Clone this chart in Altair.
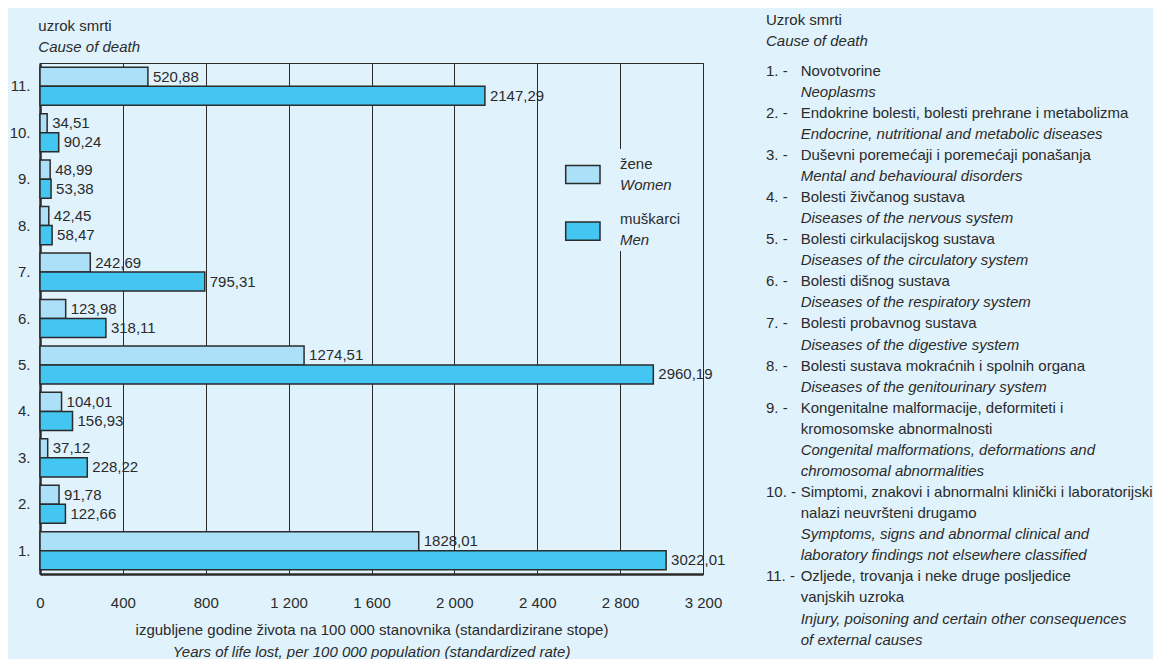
import altair as alt
import pandas as pd

FONT = "Liberation Sans, Arial, sans-serif"
FS = 15
BG = "#e0f2fc"
WOMEN_C = "#abe0f8"
MEN_C = "#43c6f1"
INK = "#2b2b2b"

causes = ["1.", "2.", "3.", "4.", "5.", "6.", "7.", "8.", "9.", "10.", "11."]
women = [1828.01, 91.78, 37.12, 104.01, 1274.51, 123.98, 242.69, 42.45, 48.99, 34.51, 520.88]
men = [3022.01, 122.66, 228.22, 156.93, 2960.19, 318.11, 795.31, 58.47, 53.38, 90.24, 2147.29]
x_ticks = [0, 400, 800, 1200, 1600, 2000, 2400, 2800, 3200]

legend_hr = ["žene", "muškarci"]
legend_en = ["Women", "Men"]

item_numbers = ["1. -", "2. -", "3. -", "4. -", "5. -", "6. -", "7. -", "8. -", "9. -", "10. -", "11. -"]
item_hr = [
    ["Novotvorine"],
    ["Endokrine bolesti, bolesti prehrane i metabolizma"],
    ["Duševni poremećaji i poremećaji ponašanja"],
    ["Bolesti živčanog sustava"],
    ["Bolesti cirkulacijskog sustava"],
    ["Bolesti dišnog sustava"],
    ["Bolesti probavnog sustava"],
    ["Bolesti sustava mokraćnih i spolnih organa"],
    ["Kongenitalne malformacije, deformiteti i", "kromosomske abnormalnosti"],
    ["Simptomi, znakovi i abnormalni klinički i laboratorijski", "nalazi neuvršteni drugamo"],
    ["Ozljede, trovanja i neke druge posljedice", "vanjskih uzroka"],
]
item_en = [
    ["Neoplasms"],
    ["Endocrine, nutritional and metabolic diseases"],
    ["Mental and behavioural disorders"],
    ["Diseases of the nervous system"],
    ["Diseases of the circulatory system"],
    ["Diseases of the respiratory system"],
    ["Diseases of the digestive system"],
    ["Diseases of the genitourinary system"],
    ["Congenital malformations, deformations and", "chromosomal abnormalities"],
    ["Symptoms, signs and abnormal clinical and", "laboratory findings not elsewhere classified"],
    ["Injury, poisoning and certain other consequences", "of external causes"],
]

W, H = 663, 511

# ---- bar data
rows = []
for c, w, m in zip(causes, women, men):
    rows.append({"cause": c, "sex": "žene", "value": w})
    rows.append({"cause": c, "sex": "muškarci", "value": m})
df = pd.DataFrame(rows)
df["label"] = df["value"].map(lambda v: f"{v:.2f}".replace(".", ","))

y_enc = alt.Y("cause:N", sort=causes[::-1],
              scale=alt.Scale(paddingInner=0.18, paddingOuter=0.09),
              axis=alt.Axis(title=None, ticks=False, labelPadding=10, labelFontSize=FS,
                            labelFont=FONT, labelColor=INK, domainColor=INK, domainWidth=2.5,
                            grid=False))
yoff = alt.YOffset("sex:N", sort=["žene", "muškarci"], scale=alt.Scale(paddingInner=0, paddingOuter=0))
x_enc = alt.X("value:Q", scale=alt.Scale(domain=[0, 3200], nice=False),
              axis=alt.Axis(values=x_ticks, ticks=False, labelPadding=21, labelFontSize=FS,
                            labelFont=FONT, labelColor=INK, labelFlush=False, labelOverlap=False,
                            labelExpr="replace(format(datum.value, ','), ',', ' ')",
                            domainColor=INK, domainWidth=2.5,
                            grid=True, gridColor=INK, gridWidth=1, gridOpacity=1,
                            title="izgubljene godine života na 100 000 stanovnika (standardizirane stope)",
                            titleFont=FONT, titleFontSize=FS, titleFontWeight="normal",
                            titleColor=INK, titlePadding=12))

base = alt.Chart(df)
bars = base.mark_bar(stroke=INK, strokeWidth=1.5).encode(
    x=x_enc, y=y_enc, yOffset=yoff,
    color=alt.Color("sex:N", scale=alt.Scale(domain=["žene", "muškarci"], range=[WOMEN_C, MEN_C]), legend=None),
)
labels = base.mark_text(align="left", baseline="middle", dx=5, font=FONT, fontSize=FS, color=INK).encode(
    x="value:Q", y=alt.Y("cause:N", sort=causes[::-1]), yOffset=alt.YOffset("sex:N", sort=["žene", "muškarci"]),
    text="label:N",
)
core = alt.layer(bars, labels)

# ---- legend (inside plot)
leg_box = alt.Chart(pd.DataFrame({"k": [0]})).mark_rect(color=BG).encode(
    x=alt.value(505), x2=alt.value(655), y=alt.value(86), y2=alt.value(188))
leg_layers = [leg_box]
leg_y = [(102.6, 120.6, 101, 121.6), (159, 177.3, 155.6, 176.6)]
for i, (hr, en, col) in enumerate(zip(legend_hr, legend_en, [WOMEN_C, MEN_C])):
    y0, y1, t1, t2 = leg_y[i]
    d = pd.DataFrame({"hr": [hr], "en": [en]})
    leg_layers.append(alt.Chart(d).mark_rect(color=col, stroke=INK, strokeWidth=1.5).encode(
        x=alt.value(525.7), x2=alt.value(560), y=alt.value(y0), y2=alt.value(y1)))
    leg_layers.append(alt.Chart(d).mark_text(align="left", baseline="middle", font=FONT, fontSize=FS, color=INK).encode(
        x=alt.value(580), y=alt.value(t1), text="hr:N"))
    leg_layers.append(alt.Chart(d).mark_text(align="left", baseline="middle", font=FONT, fontSize=FS, color=INK,
                                             fontStyle="italic").encode(
        x=alt.value(580), y=alt.value(t2), text="en:N"))

# ---- second line of x-axis title (italic)
xt2 = alt.Chart(pd.DataFrame({"t": ["Years of life lost, per 100 000 population (standardized rate)"]})).mark_text(
    align="center", baseline="middle", font=FONT, fontSize=FS, fontStyle="italic", color=INK).encode(
    x=alt.value(W / 2), y=alt.value(H + 78.3), text="t:N")

# ---- headings and right-hand key of causes
txt_rows = []
txt_rows.append({"row": 0.318, "col": "h", "style": "n", "text": "uzrok smrti"})
txt_rows.append({"row": 1.315, "col": "h", "style": "i", "text": "Cause of death"})
txt_rows.append({"row": 0, "col": "t", "style": "n", "text": "Uzrok smrti"})
txt_rows.append({"row": 1, "col": "t", "style": "i", "text": "Cause of death"})
r = 2.42
for num, hr, en in zip(item_numbers, item_hr, item_en):
    txt_rows.append({"row": r, "col": "n", "style": "n", "text": num})
    for line in hr:
        txt_rows.append({"row": r, "col": "b", "style": "n", "text": line})
        r += 1
    for line in en:
        txt_rows.append({"row": r, "col": "b", "style": "i", "text": line})
        r += 1
tdf = pd.DataFrame(txt_rows)
y_txt = alt.Y("row:Q", scale=alt.Scale(domain=[0, 29.42], range=[-43.4, 576.6]), axis=None)


def key_layer(col, style, xpix):
    return alt.Chart(tdf).transform_filter(
        (alt.datum.col == col) & (alt.datum.style == style)
    ).mark_text(align="left", baseline="middle", font=FONT, fontSize=FS, color=INK,
                fontStyle="italic" if style == "i" else "normal").encode(
        x=alt.value(xpix), y=y_txt, text="text:N")


key_layers = alt.layer(
    key_layer("h", "n", -1.7), key_layer("h", "i", -1.7),
    key_layer("t", "n", 726), key_layer("t", "i", 726),
    key_layer("n", "n", 726),
    key_layer("b", "n", 760.7), key_layer("b", "i", 760.7),
)

chart = alt.layer(core, *leg_layers, xt2, key_layers).resolve_scale(y="independent").properties(
    width=W, height=H,
    padding={"left": 1, "top": 4, "right": 0, "bottom": 0},
).configure(background=BG).configure_view(stroke=INK, strokeWidth=1)

chart.save("out.html", embed_options={"renderer": "svg", "actions": False})
